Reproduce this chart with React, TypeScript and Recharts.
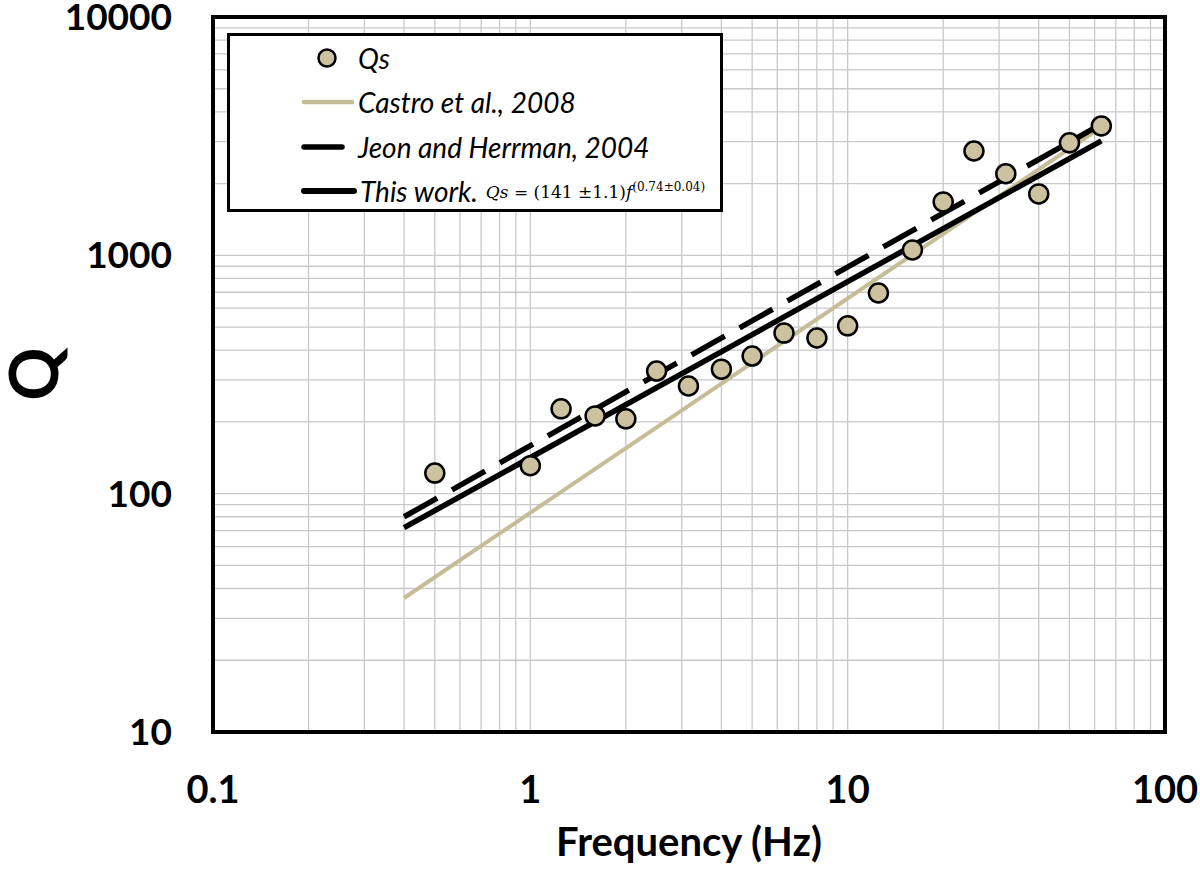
import {
  ComposedChart,
  Scatter,
  Line,
  XAxis,
  YAxis,
  CartesianGrid,
  ReferenceArea,
} from "recharts";

// Qs observations (frequency in Hz, quality factor)
const qsFreq = [0.5, 1, 1.25, 1.6, 2, 2.5, 3.15, 4, 5, 6.3, 8, 10, 12.5, 16, 20, 25, 31.5, 40, 50, 63];
const qsValue = [122, 131, 227, 212, 206, 327, 283, 333, 378, 472, 450, 506, 695, 1054, 1675, 2740, 2200, 1810, 2965, 3490];

// straight fits (log-log), end points
const fitFreq = [0.4, 63];
const castroQ = [36.5, 3450];
const jeonQ = [80, 3550];
const thisWorkQ = [72, 3020];

const xTicks = [
  0.1, 0.2, 0.3, 0.4, 0.5, 0.6, 0.7, 0.8, 0.9,
  1, 2, 3, 4, 5, 6, 7, 8, 9,
  10, 20, 30, 40, 50, 60, 70, 80, 90, 100,
];
const yTicks = [
  10, 20, 30, 40, 50, 60, 70, 80, 90,
  100, 200, 300, 400, 500, 600, 700, 800, 900,
  1000, 2000, 3000, 4000, 5000, 6000, 7000, 8000, 9000, 10000,
];
const xLabels = ["0.1", "1", "10", "100"];
const yLabels = ["10", "100", "1000", "10000"];

const qsData = qsFreq.map((f, i) => ({ f, q: qsValue[i] }));
const castroData = fitFreq.map((f, i) => ({ f, q: castroQ[i] }));
const jeonData = fitFreq.map((f, i) => ({ f, q: jeonQ[i] }));
const thisWorkData = fitFreq.map((f, i) => ({ f, q: thisWorkQ[i] }));

const TAN = "#cdc29f";
const TAN_LINE = "#c6bd98";
const FONT = "Lato, 'Open Sans', sans-serif";

const fmt = (labels: string[]) => (v: number) => (labels.includes(String(v)) ? String(v) : "");

function LegendBox() {
  const row = { position: "absolute" as const, left: 0, display: "flex", alignItems: "center", height: 40 };
  const txt = { fontFamily: FONT, fontStyle: "italic", fontSize: 28, color: "#000", whiteSpace: "nowrap" as const };
  return (
    <div
      style={{
        position: "absolute",
        left: 227,
        top: 33,
        width: 496,
        height: 179,
        boxSizing: "border-box",
        border: "3px solid #000",
        background: "#fff",
      }}
    >
      <div style={{ ...row, top: 2 }}>
        <svg width={128} height={40}>
          <circle cx={97} cy={20} r={8.5} fill={TAN} stroke="#000" strokeWidth={2.5} />
        </svg>
        <span style={txt}>Qs</span>
      </div>
      <div style={{ ...row, top: 46 }}>
        <svg width={128} height={40}>
          <line x1={74} y1={20} x2={122} y2={20} stroke={TAN_LINE} strokeWidth={4.5} strokeLinecap="round" />
        </svg>
        <span style={txt}>Castro et al., 2008</span>
      </div>
      <div style={{ ...row, top: 91 }}>
        <svg width={128} height={40}>
          <line x1={74} y1={20} x2={112} y2={20} stroke="#000" strokeWidth={5.5} strokeLinecap="round" />
        </svg>
        <span style={txt}>Jeon and Herrman, 2004</span>
      </div>
      <div style={{ ...row, top: 135 }}>
        <svg width={130} height={40}>
          <line x1={74} y1={20} x2={124} y2={20} stroke="#000" strokeWidth={6} strokeLinecap="round" />
        </svg>
        <span style={txt}>This work.</span>
        <span
          style={{
            fontFamily: "'DejaVu Serif', 'Liberation Serif', serif",
            fontSize: 17,
            marginLeft: 8,
            whiteSpace: "nowrap",
          }}
        >
          <i>Qs</i> = (141 ±1.1)<i>f</i>
          <sup style={{ fontSize: 12 }}>(0.74±0.04)</sup>
        </span>
      </div>
    </div>
  );
}

export default function App() {
  return (
    <div style={{ position: "absolute", left: 0, top: 0, width: 1200, height: 873, background: "#fff", fontFamily: FONT }}>
      <ComposedChart width={1200} height={873} margin={{ top: 17, right: 35, left: 0, bottom: 0 }}>
        <CartesianGrid stroke="#c9c9c9" strokeWidth={1.3} />
        <XAxis
          type="number"
          dataKey="f"
          scale="log"
          domain={[0.1, 100]}
          ticks={xTicks}
          tickFormatter={fmt(xLabels)}
          allowDataOverflow
          axisLine={false}
          tickLine={false}
          tickSize={0}
          tickMargin={44}
          height={141}
          interval={0}
          tick={{ fill: "#000", fontSize: 38, fontWeight: 700, fontFamily: FONT }}
          label={{
            value: "Frequency (Hz)",
            position: "insideBottom",
            offset: 17,
            style: { fill: "#000", fontSize: 40, fontWeight: 700, fontFamily: FONT, textAnchor: "middle" },
          }}
        />
        <YAxis
          type="number"
          dataKey="q"
          scale="log"
          domain={[10, 10000]}
          ticks={yTicks}
          tickFormatter={fmt(yLabels)}
          allowDataOverflow
          axisLine={false}
          tickLine={false}
          tickSize={0}
          tickMargin={41}
          width={213}
          interval={0}
          tick={{ fill: "#000", fontSize: 37, fontWeight: 700, fontFamily: FONT }}
          label={{
            value: "Q",
            content: () => (
              <text
                x={32}
                y={374}
                transform="rotate(-90 32 374)"
                textAnchor="middle"
                dominantBaseline="central"
                fill="#000"
                fontSize={66}
                fontWeight={700}
                fontFamily={FONT}
              >
                Q
              </text>
            ),
          }}
        />
        <ReferenceArea
          x1={0.1}
          x2={100}
          y1={10}
          y2={10000}
          fill="none"
          stroke="#000"
          strokeWidth={4}
          ifOverflow="visible"
        />
        <Scatter
          name="Qs"
          data={qsData}
          isAnimationActive={false}
          shape={(p: any) => (
            <circle cx={p.cx} cy={p.cy} r={9.5} fill={TAN} stroke="#000" strokeWidth={2.5} />
          )}
        />
        <Line
          name="Castro et al., 2008"
          data={castroData}
          dataKey="q"
          stroke={TAN_LINE}
          strokeWidth={4}
          dot={false}
          isAnimationActive={false}
        />
        <Line
          name="Jeon and Herrman, 2004"
          data={jeonData}
          dataKey="q"
          stroke="#000"
          strokeWidth={5.5}
          strokeDasharray="38 17"
          dot={false}
          isAnimationActive={false}
        />
        <Line
          name="This work"
          data={thisWorkData}
          dataKey="q"
          stroke="#000"
          strokeWidth={5.5}
          dot={false}
          isAnimationActive={false}
        />
      </ComposedChart>
      <LegendBox />
    </div>
  );
}
